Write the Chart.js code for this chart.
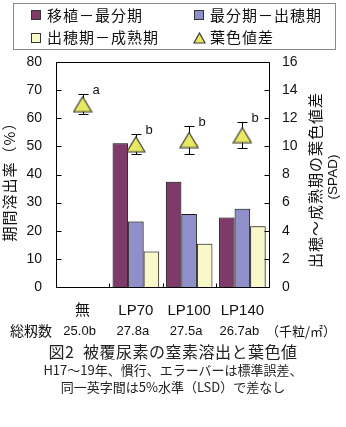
<!DOCTYPE html>
<html>
<head>
<meta charset="utf-8">
<script src="https://cdn.jsdelivr.net/npm/chart.js@4/dist/chart.umd.min.js"></script>
<style>
  html, body { margin: 0; padding: 0; background: #fff; }
  #wrap { position: relative; width: 346px; height: 427px; }
  #chart { position: absolute; left: 0; top: 0; }
  .cap { position: absolute; left: 0; width: 346px; text-align: center;
         font-family: 'Noto Sans CJK JP', sans-serif; color: #222; white-space: nowrap; }
  #title { top: 341px; font-size: 16px; line-height: 21px; letter-spacing: 0.5px; }
  #note { top: 361px; font-size: 13px; line-height: 17px; }
</style>
</head>
<body>
<div id="wrap">
  <canvas id="chart" width="346" height="427"></canvas>
  <div class="cap" id="title">図2&ensp;被覆尿素の窒素溶出と葉色値</div>
  <div class="cap" id="note">H17～19年、慣行、エラーバーは標準誤差、<br>同一英字間は5%水準（LSD）で差なし</div>
</div>
<script>
const categories = ['無', 'LP70', 'LP100', 'LP140'];
const panicleCounts = ['25.0b', '27.8a', '27.5a', '26.7ab'];

// 期間溶出率 (%)
const transplantToMaxTiller = [null, 51.1, 37.4, 24.7];
const maxTillerToHeading = [null, 23.3, 26.0, 27.8];
const headingToMaturity = [null, 12.6, 15.4, 21.6];

// 出穂～成熟期の葉色値差 (SPAD)
const leafColorDiff = [13.0, 10.15, 10.45, 10.8];
const leafColorSE = [0.7, 0.7, 1.0, 0.95];
const sigLetters = ['a', 'b', 'b', 'b'];

const seriesNames = ['移植－最分期', '最分期－出穂期', '出穂期－成熟期', '葉色値差'];

const CJK = "'Noto Sans CJK JP', sans-serif";
const NUM = "'Liberation Sans', Arial, 'Noto Sans CJK JP', sans-serif";

function makeTriangle(w, h) {
  const c = document.createElement('canvas');
  c.width = w + 2;
  c.height = h + 2;
  const g = c.getContext('2d');
  g.beginPath();
  g.moveTo(1 + w / 2, 1);
  g.lineTo(1 + w, 1 + h);
  g.lineTo(1, 1 + h);
  g.closePath();
  g.fillStyle = '#E8E862';
  g.fill();
  g.lineWidth = 1.2;
  g.strokeStyle = '#3a3a30';
  g.stroke();
  return c;
}
const triMark = makeTriangle(18, 15);
const triLegend = makeTriangle(11, 10);

function vText(ctx, text, x, y, font) {
  ctx.save();
  ctx.translate(x, y);
  ctx.rotate(-Math.PI / 2);
  ctx.font = font;
  ctx.textAlign = 'center';
  ctx.textBaseline = 'middle';
  ctx.fillText(text, 0, 0);
  ctx.restore();
}

const decorations = {
  id: 'decorations',
  beforeDatasetDraw(chart, args) {
    const ctx = chart.ctx;
    if (args.index < 3) {
      ctx.save();
      ctx.shadowColor = 'rgba(0,0,0,0.35)';
      ctx.shadowBlur = 2;
      return;
    }
    // error bars + letters, drawn under the triangles
    const x = chart.scales.x, y1 = chart.scales.y1;
    ctx.save();
    ctx.strokeStyle = '#000';
    ctx.lineWidth = 1;
    ctx.fillStyle = '#111';
    ctx.font = '13px ' + NUM;
    ctx.textAlign = 'left';
    ctx.textBaseline = 'middle';
    leafColorDiff.forEach((v, i) => {
      const px = Math.round(x.getPixelForValue(i)) + 0.5;
      const top = Math.round(y1.getPixelForValue(v + leafColorSE[i])) + 0.5;
      const bot = Math.round(y1.getPixelForValue(v - leafColorSE[i])) + 0.5;
      ctx.beginPath();
      ctx.moveTo(px, top); ctx.lineTo(px, bot);
      ctx.moveTo(px - 5, top); ctx.lineTo(px + 5, top);
      ctx.moveTo(px - 5, bot); ctx.lineTo(px + 5, bot);
      ctx.stroke();
      ctx.fillText(sigLetters[i], px + 9, top - 4);
    });
    ctx.restore();
  },
  afterDatasetDraw(chart, args) {
    if (args.index < 3) chart.ctx.restore();
  },
  afterDatasetsDraw(chart) {
    const ctx = chart.ctx, a = chart.chartArea;
    const x = chart.scales.x, y = chart.scales.y, y1 = chart.scales.y1;
    const L = Math.round(a.left) + 0.5, R = Math.round(a.right) + 0.5;
    const T = Math.round(a.top) + 0.5, B = Math.round(a.bottom) + 0.5;
    ctx.save();
    ctx.strokeStyle = '#000';
    ctx.lineWidth = 1;
    ctx.beginPath();
    ctx.rect(L, T, R - L, B - T);
    y.ticks.forEach(t => {
      const py = Math.round(y.getPixelForValue(t.value)) + 0.5;
      ctx.moveTo(L, py); ctx.lineTo(L + 5, py);
    });
    y1.ticks.forEach(t => {
      const py = Math.round(y1.getPixelForValue(t.value)) + 0.5;
      ctx.moveTo(R - 5, py); ctx.lineTo(R, py);
    });
    for (let i = 0; i < categories.length - 1; i++) {
      const px = Math.round((x.getPixelForValue(i) + x.getPixelForValue(i + 1)) / 2) + 0.5;
      ctx.moveTo(px, B); ctx.lineTo(px, B - 4);
    }
    ctx.stroke();
    ctx.restore();
  },
  afterDraw(chart) {
    const ctx = chart.ctx, x = chart.scales.x;
    ctx.save();
    ctx.fillStyle = '#111';

    // legend
    ctx.strokeStyle = '#8a8a8a';
    ctx.lineWidth = 1;
    ctx.strokeRect(13.5, 3.5, 322, 46);
    const cols = [31, 194], rows = [15, 37.5];
    ctx.font = '15px ' + CJK;
    ctx.letterSpacing = '1px';
    ctx.textAlign = 'left';
    ctx.textBaseline = 'middle';
    chart.data.datasets.forEach((ds, i) => {
      const lx = cols[i % 2], ly = rows[Math.floor(i / 2)];
      if (ds.type === 'line') {
        ctx.drawImage(triLegend, lx - 1, Math.round(ly - 6));
      } else {
        ctx.fillStyle = ds.backgroundColor;
        ctx.fillRect(lx + 0.5, Math.round(ly - 5) + 0.5, 9, 9);
        ctx.strokeStyle = '#333';
        ctx.strokeRect(lx + 0.5, Math.round(ly - 5) + 0.5, 9, 9);
      }
      ctx.fillStyle = '#111';
      ctx.fillText(ds.label, lx + 16, ly);
    });

    // axis titles
    vText(ctx, '期間溶出率（%）', 9.5, 178, '15px ' + CJK);
    vText(ctx, '出穂～成熟期の葉色値差', 315, 180, '15px ' + CJK);
    ctx.letterSpacing = '0px';
    vText(ctx, '(SPAD)', 333, 177, '13.5px ' + NUM);

    // 総籾数 row
    const rowY = 331;
    ctx.textBaseline = 'middle';
    ctx.font = '14px ' + CJK;
    ctx.textAlign = 'left';
    ctx.fillText('総籾数', 10, rowY);
    ctx.font = '13px ' + NUM;
    ctx.textAlign = 'center';
    panicleCounts.forEach((s, i) => ctx.fillText(s, x.getPixelForValue(i) - 3, rowY));
    ctx.font = '13px ' + CJK;
    ctx.textAlign = 'left';
    ctx.fillText('（千粒/㎡）', 266, rowY);
    ctx.restore();
  }
};

new Chart(document.getElementById('chart'), {
  data: {
    labels: categories,
    datasets: [
      { type: 'bar', label: seriesNames[0], data: transplantToMaxTiller, yAxisID: 'y',
        backgroundColor: '#7E3B69', borderColor: '#1e1e1e', borderWidth: 1 },
      { type: 'bar', label: seriesNames[1], data: maxTillerToHeading, yAxisID: 'y',
        backgroundColor: '#8F8FC9', borderColor: '#1e1e1e', borderWidth: 1 },
      { type: 'bar', label: seriesNames[2], data: headingToMaturity, yAxisID: 'y',
        backgroundColor: '#F8F8C8', borderColor: '#1e1e1e', borderWidth: 1 },
      { type: 'line', label: seriesNames[3], data: leafColorDiff, yAxisID: 'y1',
        showLine: false, pointStyle: triMark, pointRadius: 9, order: -1 }
    ]
  },
  options: {
    responsive: false,
    animation: false,
    layout: { padding: { left: 16, right: 37, top: 62, bottom: 100 } },
    datasets: { bar: { categoryPercentage: 0.875, barPercentage: 1.0 } },
    plugins: { legend: { display: false }, tooltip: { enabled: false } },
    scales: {
      x: {
        grid: { display: false, drawTicks: false },
        border: { display: false },
        ticks: { padding: 15, color: '#111', font: { family: NUM, size: 15 } },
        afterFit(s) { s.height = 40; }
      },
      y: {
        position: 'left', min: 0, max: 80,
        grid: { display: false, drawTicks: false },
        border: { display: false },
        ticks: { stepSize: 10, padding: 14, color: '#111', font: { family: NUM, size: 14 } },
        afterFit(s) { s.width = 40; }
      },
      y1: {
        position: 'right', min: 0, max: 16,
        grid: { display: false, drawTicks: false },
        border: { display: false },
        ticks: { stepSize: 2, padding: 13, color: '#111', font: { family: NUM, size: 14 } },
        afterFit(s) { s.width = 40; }
      }
    }
  },
  plugins: [decorations]
});
</script>
</body>
</html>
